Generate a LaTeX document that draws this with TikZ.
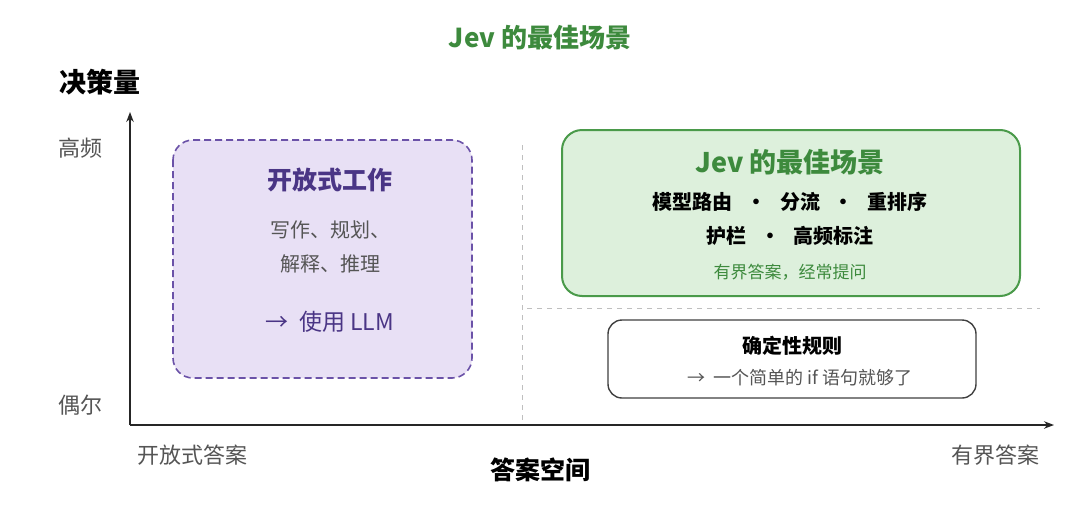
\documentclass[tikz,border=0pt]{standalone}
\usepackage{fontspec}
\setmainfont{Noto Sans CJK SC}
\usetikzlibrary{arrows.meta}
\definecolor{pbord}{HTML}{6B52A8}
\definecolor{pfill}{HTML}{E8E0F5}
\definecolor{ptext}{HTML}{4A3585}
\definecolor{gbord}{HTML}{4A9A4A}
\definecolor{gfill}{HTML}{DDF0DC}
\definecolor{gtext}{HTML}{3D8A3D}
\definecolor{gr}{HTML}{555555}
\tikzset{
 lab/.style={font=\fontsize{22}{26}\selectfont, text=gr},
 ax/.style={line width=1.4pt, draw=black!85, -{Stealth[length=10pt]}},
 sep/.style={draw=black!25, dash pattern=on 5pt off 5pt, line width=0.8pt}
}
\begin{document}
\begin{tikzpicture}[x=1pt,y=-1pt]
\useasboundingbox[fill=white] (0,0) rectangle (1080,509);
\node (title) at (540,38) {\fontsize{26}{30}\selectfont\bfseries\color{gtext}Jev 的最佳场景};
\node (ylab) at (100,82) {\fontsize{27}{30}\selectfont\bfseries 决策量};
\coordinate (o) at (130,425);
\coordinate (yt) at (130,112);
\coordinate (xt) at (1054,425);
\draw[ax] (o) -- (yt);
\draw[ax] (o) -- (xt);
\node[lab] (hi) at (80,148) {高频};
\node[lab] (lo) at (80,405) {偶尔};
\node[lab] (xl) at (192,455) {开放式答案};
\node[lab] (xr) at (995,455) {有界答案};
\node (xlab) at (540,470) {\fontsize{25}{28}\selectfont\bfseries 答案空间};
\coordinate (v1) at (522,145); \coordinate (v2) at (522,420);
\draw[sep] (v1) -- (v2);
\coordinate (h1) at (527,308); \coordinate (h2) at (1040,308);
\draw[sep] (h1) -- (h2);
% purple
\draw[draw=pbord, fill=pfill, dash pattern=on 7pt off 4pt, line width=1.6pt, rounded corners=20pt] (173,140) rectangle (472,378);
\node (pt) at (330,180) {\fontsize{25}{28}\selectfont\bfseries\color{ptext}开放式工作};
\node[lab,font=\fontsize{20}{24}\selectfont] (p1) at (330,230) {写作、规划、};
\node[lab,font=\fontsize{20}{24}\selectfont] (p2) at (330,264) {解释、推理};
\node (p3) at (330,322) {\fontsize{23}{26}\selectfont\color{ptext}→\ \ 使用 LLM};
% green
\draw[draw=gbord, fill=gfill, line width=2pt, rounded corners=20pt] (562,130) rectangle (1020,296);
\node (gt) at (790,162) {\fontsize{27}{30}\selectfont\bfseries\color{gtext}Jev 的最佳场景};
\node (g1) at (790,202) {\fontsize{20}{24}\selectfont\bfseries 模型路由\ \ \ ·\ \ \ 分流\ \ \ ·\ \ \ 重排序};
\node (g2) at (790,236) {\fontsize{20}{24}\selectfont\bfseries 护栏\ \ \ ·\ \ \ 高频标注};
\node (g3) at (790,272) {\fontsize{17}{20}\selectfont\color{gtext}有界答案，经常提问};
% white
\draw[draw=black!75, fill=white, line width=1.4pt, rounded corners=14pt] (608,320) rectangle (976,398);
\node (w1) at (792,346) {\fontsize{20}{24}\selectfont\bfseries 确定性规则};
\node (w2) at (800,378) {\fontsize{18}{21}\selectfont\color{gr}→\ \ 一个简单的 if 语句就够了};
\end{tikzpicture}
\end{document}
